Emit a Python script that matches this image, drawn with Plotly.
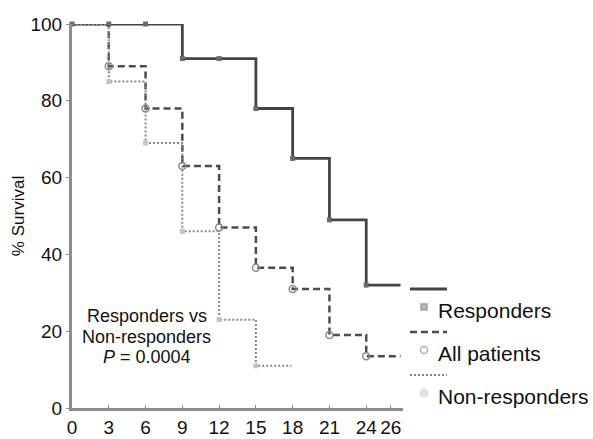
import plotly.graph_objects as go

# ---- data ----
months_ticks = [0, 3, 6, 9, 12, 15, 18, 21, 24, 26]
tick_labels = ["0", "3", "6", "9", "12", "15", "18", "21", "24", "26"]
y_ticks = [0, 20, 40, 60, 80, 100]

resp_x = [0, 9, 15, 18, 21, 24, 26.8]
resp_y = [100, 91, 78, 65, 49, 32, 32]
resp_mx = [0, 3, 6, 9, 12, 15, 18, 21, 24]
resp_my = [100, 100, 100, 91, 91, 78, 65, 49, 32]

all_x = [0, 3, 6, 9, 12, 15, 18, 21, 24, 26.8]
all_y = [100, 89, 78, 63, 47, 36.5, 31, 19, 13.5, 13.5]
all_mx = [3, 6, 9, 12, 15, 18, 21, 24]
all_my = [89, 78, 63, 47, 36.5, 31, 19, 13.5]

non_x = [0, 3, 6, 9, 12, 15, 17.9]
non_y = [100, 85, 69, 46, 23, 11, 11]
non_mx = [3, 6, 9, 12, 15]
non_my = [85, 69, 46, 23, 11]

series_names = ["Responders", "All patients", "Non-responders"]
annot_lines = ["Responders vs", "Non-responders", "<i>P</i> = 0.0004"]

# ---- layout geometry ----
W, H = 593, 439
L, R, T, B = 72, 190, 24, 31
FONT = "Liberation Sans, Arial, sans-serif"

def px_x(px):
    return (px - L) / (W - L - R)

def px_y(py):
    return (H - B - py) / (H - T - B)

fig = go.Figure()

line_styles = [
    dict(color="#444444", width=2.8, dash="solid"),
    dict(color="#4c4c4c", width=2.5, dash="7px,4px"),
    dict(color="#888888", width=2.0, dash="2px,2px"),
]
marker_styles = [
    dict(symbol="square", size=5, color="#6a6a6a"),
    dict(symbol="circle-open", size=7, color="#8a8a8a", line=dict(width=1.5)),
    dict(symbol="square", size=5, color="#c4c4c4"),
]

for (xs, ys, mx, my), ls, ms in zip(
    [(resp_x, resp_y, resp_mx, resp_my),
     (all_x, all_y, all_mx, all_my),
     (non_x, non_y, non_mx, non_my)],
    line_styles, marker_styles):
    fig.add_trace(go.Scatter(x=xs, y=ys, mode="lines", line=dict(shape="hv", **ls),
                             showlegend=False, cliponaxis=False, hoverinfo="skip"))
    fig.add_trace(go.Scatter(x=mx, y=my, mode="markers", marker=ms,
                             showlegend=False, cliponaxis=False))

# ---- custom legend (line row above marker + label row) ----
shapes = []
annotations = []
legend_rows = [289, 332, 375]
for i, (name, ls, ms) in enumerate(zip(series_names, line_styles, marker_styles)):
    ly = legend_rows[i]
    ty = ly + 21
    shapes.append(dict(type="line", xref="paper", yref="paper",
                       x0=px_x(410), x1=px_x(447), y0=px_y(ly), y1=px_y(ly),
                       line=dict(color=ls["color"], width=ls["width"], dash=ls["dash"])))
    cx, cy = 424, ty - 3
    fill = ["#b8b8b8", "rgba(0,0,0,0)", "#e2e2e2"][i]
    border = ["#a0a0a0", "#b0b0b0", "#e2e2e2"][i]
    stype = ["rect", "circle", "circle"][i]
    rr = [3, 3.5, 4][i]
    shapes.append(dict(type=stype, xref="paper", yref="paper",
                       x0=px_x(cx - rr), x1=px_x(cx + rr), y0=px_y(cy - rr), y1=px_y(cy + rr),
                       fillcolor=fill, line=dict(color=border, width=1.5)))
    annotations.append(dict(text=name, xref="paper", yref="paper",
                            x=px_x(436), y=px_y(ty), xanchor="left", yanchor="middle",
                            showarrow=False, font=dict(size=21, color="#111", family=FONT)))

# ---- statistics annotation ----
for j, t in enumerate(annot_lines):
    annotations.append(dict(text=t, xref="x", yref="paper", x=6.1,
                            y=px_y(316 + 20.5 * j), xanchor="center", yanchor="middle",
                            showarrow=False, font=dict(size=18, color="#111", family=FONT)))

fig.update_layout(
    width=W, height=H,
    margin=dict(l=L, r=R, t=T, b=B, pad=0, autoexpand=False),
    paper_bgcolor="white", plot_bgcolor="white",
    font=dict(family=FONT, color="#111"),
    shapes=shapes, annotations=annotations,
    showlegend=False,
)
fig.update_xaxes(range=[0, 27], tickvals=months_ticks, ticktext=tick_labels,
                 automargin=False,
                 showgrid=False, zeroline=False, showline=True, linecolor="#8c8c8c",
                 linewidth=3, ticks="inside", ticklen=3, tickcolor="#8c8c8c",
                 tickfont=dict(size=19, family=FONT, color="#111"))
fig.update_yaxes(range=[0, 100], tickvals=y_ticks, automargin=False,
                 showgrid=False, zeroline=False, showline=True, linecolor="#8c8c8c",
                 linewidth=3, ticks="outside", ticklen=3, tickcolor="#8c8c8c",
                 tickfont=dict(size=19, family=FONT, color="#111"),
                 title=dict(text="% Survival", font=dict(size=17, family=FONT, color="#111"),
                            standoff=2))

fig.write_html("out.html", config={"displayModeBar": False},
               post_script="document.body.style.margin='0';document.body.style.overflow='hidden';")
